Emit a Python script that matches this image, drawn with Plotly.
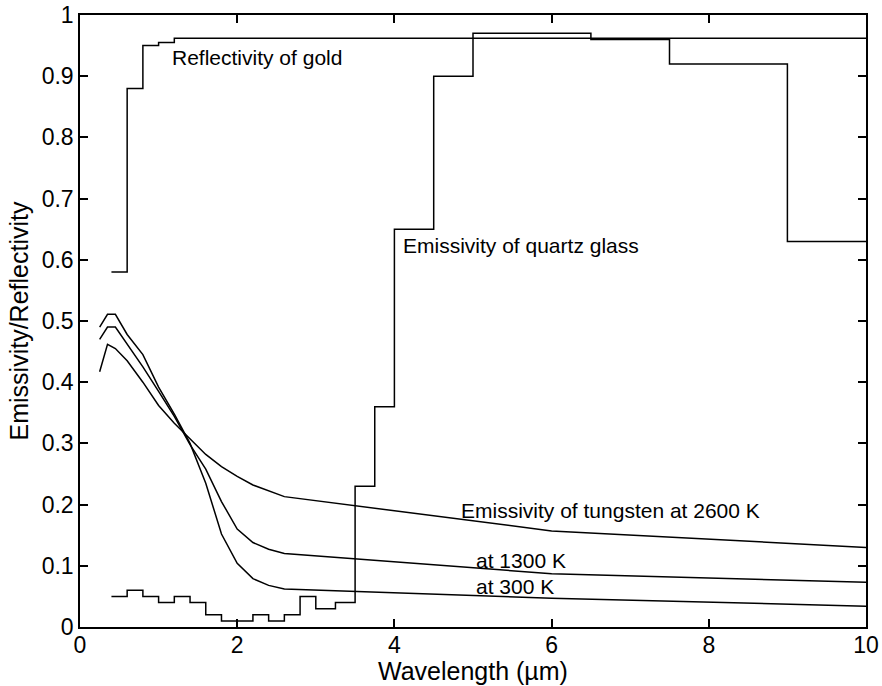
import plotly.graph_objects as go

# Reflectivity of gold (stepwise, band edges in µm)
gold_edges = [0.4, 0.6, 0.8, 1.0, 1.2, 10.0]
gold_values = [0.58, 0.88, 0.95, 0.955, 0.962]

# Emissivity of quartz glass (stepwise, band edges in µm)
quartz_edges = [0.4, 0.6, 0.8, 1.0, 1.2, 1.4, 1.6, 1.8, 2.2, 2.4, 2.6, 2.8,
                3.0, 3.25, 3.5, 3.75, 4.0, 4.5, 5.0, 6.5, 7.5, 9.0, 10.0]
quartz_values = [0.05, 0.06, 0.05, 0.04, 0.05, 0.04, 0.02, 0.01, 0.02, 0.01,
                 0.02, 0.05, 0.03, 0.04, 0.23, 0.36, 0.65, 0.90, 0.97, 0.96,
                 0.92, 0.63]

# Emissivity of tungsten at three temperatures
w_wavelength = [0.25, 0.35, 0.45, 0.6, 0.8, 1.0, 1.2, 1.4, 1.6, 1.8, 2.0,
                2.2, 2.4, 2.6, 6.0, 10.0]
w_2600 = [0.417, 0.462, 0.455, 0.435, 0.400, 0.362, 0.333, 0.308, 0.282,
          0.262, 0.246, 0.232, 0.222, 0.213, 0.157, 0.130]
w_1300 = [0.470, 0.490, 0.490, 0.462, 0.425, 0.385, 0.344, 0.298, 0.258,
          0.205, 0.160, 0.138, 0.127, 0.120, 0.087, 0.073]
w_300 = [0.490, 0.511, 0.511, 0.478, 0.445, 0.392, 0.348, 0.300, 0.235,
         0.152, 0.104, 0.079, 0.068, 0.062, 0.047, 0.034]

x_ticks = [0, 2, 4, 6, 8, 10]
y_ticks = [0, 0.1, 0.2, 0.3, 0.4, 0.5, 0.6, 0.7, 0.8, 0.9, 1]
y_tick_text = ["0", "0.1", "0.2", "0.3", "0.4", "0.5", "0.6", "0.7", "0.8", "0.9", "1"]

FONT = "Liberation Sans, Arial, Helvetica, sans-serif"
LINE = dict(color="black", width=1.5)
PLOT_H = 686 - 15 - 59


def step_xy(edges, values):
    return list(edges), list(values) + [values[-1]]


fig = go.Figure()

gx, gy = step_xy(gold_edges, gold_values)
fig.add_trace(go.Scatter(x=gx, y=gy, mode="lines", line=dict(LINE, shape="hv")))

qx, qy = step_xy(quartz_edges, quartz_values)
fig.add_trace(go.Scatter(x=qx, y=qy, mode="lines", line=dict(LINE, shape="hv")))

for series in (w_2600, w_1300, w_300):
    fig.add_trace(go.Scatter(x=w_wavelength, y=series, mode="lines", line=LINE))

labels = [
    (1.15, 0.931, "Reflectivity of gold"),
    (4.08, 0.624, "Emissivity of quartz glass"),
    (4.82, 0.191, "Emissivity of tungsten at 2600 K"),
    (5.01, 0.108, "at 1300 K"),
    (5.01, 0.066, "at 300 K"),
]
for lx, ly, txt in labels:
    fig.add_annotation(x=lx, y=ly, text=txt, showarrow=False, xanchor="left",
                       yanchor="middle", font=dict(family=FONT, size=21, color="black"))

# x-axis title sits at the bottom edge of the page, under the tick labels
fig.add_annotation(x=0.5, xref="paper", y=-59 / PLOT_H, yref="paper",
                   text="Wavelength (µm)", showarrow=False, xanchor="center",
                   yanchor="bottom", yshift=-1,
                   font=dict(family=FONT, size=25, color="black"))

axis_common = dict(
    showline=True, linecolor="black", linewidth=1.5, mirror="ticks",
    ticks="inside", ticklen=8, tickwidth=1.5, tickcolor="black",
    showgrid=False, zeroline=False, automargin=False,
    tickfont=dict(family=FONT, size=23, color="black"),
)

fig.update_layout(
    width=882, height=686,
    margin=dict(l=80, r=16, t=15, b=59),
    paper_bgcolor="white", plot_bgcolor="white",
    showlegend=False,
    xaxis=dict(axis_common, range=[0, 10], tickvals=x_ticks, ticklabelstandoff=-3),
    yaxis=dict(axis_common, range=[0, 1], tickvals=y_ticks, ticktext=y_tick_text,
               title=dict(text="Emissivity/Reflectivity", standoff=6,
                          font=dict(family=FONT, size=25, color="black"))),
)

fig.write_html("out.html")
